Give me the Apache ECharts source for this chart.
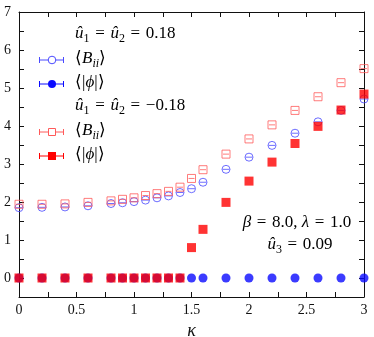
<!DOCTYPE html>
<html><head><meta charset="utf-8">
<script src="https://cdn.jsdelivr.net/npm/echarts@6/dist/echarts.min.js"></script>
<style>html,body{margin:0;padding:0;background:#fff}#c{width:374px;height:337px}</style>
</head><body><div id="c"></div>
<script>
const kappa = [0, 0.2, 0.4, 0.6, 0.8, 0.9, 1.0, 1.1, 1.2, 1.3, 1.4, 1.5, 1.6, 1.8, 2.0, 2.2, 2.4, 2.6, 2.8, 3.0];
const bPos   = [1.85, 1.86, 1.87, 1.90, 1.96, 1.98, 2.01, 2.05, 2.11, 2.16, 2.25, 2.35, 2.52, 2.86, 3.18, 3.49, 3.81, 4.11, 4.41, 4.71];
const phiPos = [0, 0, 0, 0, 0, 0, 0, 0, 0, 0, 0, 0, 0, 0, 0, 0, 0, 0, 0, 0];
const bNeg   = [1.94, 1.94, 1.95, 1.99, 2.03, 2.07, 2.11, 2.17, 2.22, 2.28, 2.39, 2.62, 2.85, 3.26, 3.66, 4.03, 4.41, 4.77, 5.14, 5.51];
const phiNeg = [0, 0, 0, 0, 0, 0, 0, 0, 0, 0, 0, 0.80, 1.28, 1.99, 2.55, 3.05, 3.54, 3.99, 4.42, 4.84];
const xTicks = [0, 0.5, 1, 1.5, 2, 2.5, 3];
const yTicks = [0, 1, 2, 3, 4, 5, 6, 7];

const FONT = 'Liberation Serif';
const BLUE_O = '#4a4aff', BLUE_F = '#0a0aff', RED_O = '#ff5a5a', RED_F = '#ff0000';
const pair = (xs, ys) => xs.map((x, i) => [x, ys[i]]);

const chart = echarts.init(document.getElementById('c'), null, {renderer: 'canvas'});

const axisCommon = {
  type: 'value',
  axisLine: {show: true, onZero: false, lineStyle: {color: '#111', width: 1}},
  axisTick: {show: true, inside: true, length: 5, lineStyle: {color: '#111'}},
  splitLine: {show: false}
};
const xBase = Object.assign({}, axisCommon, {min: 0, max: 3, interval: 0.25});
const yBase = Object.assign({}, axisCommon, {min: -0.5, max: 7, interval: 0.5});

const rich = {
  n: {fontFamily: FONT, fontSize: 17, color: '#111', padding: [0, 0, 3, 0], verticalAlign: 'bottom'},
  i: {fontFamily: FONT, fontSize: 17, fontStyle: 'italic', color: '#111', padding: [0, 0, 3, 0], verticalAlign: 'bottom'},
  s: {fontFamily: FONT, fontSize: 12, color: '#111', verticalAlign: 'bottom'},
  si: {fontFamily: FONT, fontSize: 12, fontStyle: 'italic', color: '#111', verticalAlign: 'bottom'}
};
function txt(x, y, text, align) {
  return {type: 'text', silent: true, style: {x: x, y: y, text: text, rich: rich, align: align || 'left', verticalAlign: 'middle'}};
}
function legendLine(y, color) {
  return [
    {type: 'line', silent: true, shape: {x1: 39, y1: y, x2: 64, y2: y}, style: {stroke: color, lineWidth: 1}},
    {type: 'line', silent: true, shape: {x1: 39.5, y1: y - 3, x2: 39.5, y2: y + 3}, style: {stroke: color, lineWidth: 1}},
    {type: 'line', silent: true, shape: {x1: 63.5, y1: y - 3, x2: 63.5, y2: y + 3}, style: {stroke: color, lineWidth: 1}}
  ];
}
const SP = '\u2004';
const EQ = SP + '=' + SP;
const B = '{n|⟨}{i|B}{si|ii}{n|⟩}';
const PHI = '{n|⟨|}{i|ϕ}{n||⟩}';

const graphic = [].concat(
  [txt(75, 35, '{i|û}{s|1}{n|' + EQ + '}{i|û}{s|2}{n|' + EQ + '0.18}')],
  legendLine(60, BLUE_O),
  [{type: 'circle', silent: true, shape: {cx: 52, cy: 60, r: 3.8}, style: {fill: '#fff', stroke: BLUE_O, lineWidth: 1}}],
  [txt(75, 60, B)],
  legendLine(84, BLUE_F),
  [{type: 'circle', silent: true, shape: {cx: 52, cy: 84, r: 4}, style: {fill: BLUE_F}}],
  [txt(75, 84, PHI)],
  [txt(75, 107, '{i|û}{s|1}{n|' + EQ + '}{i|û}{s|2}{n|' + EQ + '−0.18}')],
  legendLine(132, RED_O),
  [{type: 'rect', silent: true, shape: {x: 48.5, y: 128.5, width: 7, height: 7}, style: {fill: '#fff', stroke: RED_O, lineWidth: 1}}],
  [txt(75, 132, B)],
  legendLine(156, RED_F),
  [{type: 'rect', silent: true, shape: {x: 48, y: 152, width: 8, height: 8}, style: {fill: RED_F}}],
  [txt(75, 156, PHI)],
  [txt(297, 224, '{i|β}{n|' + EQ + '8.0, }{i|λ}{n|' + EQ + '1.0}', 'center')],
  [txt(300, 246, '{i|û}{s|3}{n|' + EQ + '0.09}', 'center')]
);

const option = {
  animation: false,
  backgroundColor: '#fff',
  grid: {left: 19, right: 10, top: 12, bottom: 40, containLabel: false, outerBoundsMode: 'none'},
  xAxis: [
    Object.assign({}, xBase, {
      position: 'bottom',
      name: 'κ', nameLocation: 'middle', nameGap: 15,
      nameTextStyle: {fontFamily: FONT, fontStyle: 'italic', fontSize: 18, color: '#111'},
      axisLabel: {show: true, margin: 6, fontFamily: FONT, fontSize: 14, color: '#111',
        formatter: v => (xTicks.indexOf(Math.round(v * 100) / 100) >= 0 ? String(Math.round(v * 100) / 100) : '')}
    }),
    Object.assign({}, xBase, {position: 'top', axisLabel: {show: false}})
  ],
  yAxis: [
    Object.assign({}, yBase, {
      position: 'left',
      axisLabel: {show: true, margin: 8, fontFamily: FONT, fontSize: 14, color: '#111',
        formatter: v => (yTicks.indexOf(Math.round(v * 100) / 100) >= 0 ? String(Math.round(v * 100) / 100) : '')}
    }),
    Object.assign({}, yBase, {position: 'right', axisLabel: {show: false}})
  ],
  graphic: graphic,
  series: [
    {type: 'scatter', data: pair(kappa, bPos), symbol: 'circle', symbolSize: 8,
      itemStyle: {color: 'transparent', borderColor: BLUE_O, borderWidth: 1}, z: 2},
    {type: 'scatter', data: pair(kappa, bPos), symbol: 'rect', symbolSize: [7, 1],
      itemStyle: {color: BLUE_O}, z: 2},
    {type: 'scatter', data: pair(kappa, phiPos), symbol: 'circle', symbolSize: 9,
      itemStyle: {color: BLUE_F}, z: 3},
    {type: 'scatter', data: pair(kappa, bNeg), symbol: 'rect', symbolSize: 8,
      itemStyle: {color: 'transparent', borderColor: RED_O, borderWidth: 1}, z: 4},
    {type: 'scatter', data: pair(kappa, bNeg), symbol: 'rect', symbolSize: [6, 1],
      itemStyle: {color: RED_O}, z: 4},
    {type: 'scatter', data: pair(kappa, phiNeg), symbol: 'rect', symbolSize: 9,
      itemStyle: {color: RED_F}, z: 5}
  ]
};
chart.setOption(option);
</script>
</body></html>
